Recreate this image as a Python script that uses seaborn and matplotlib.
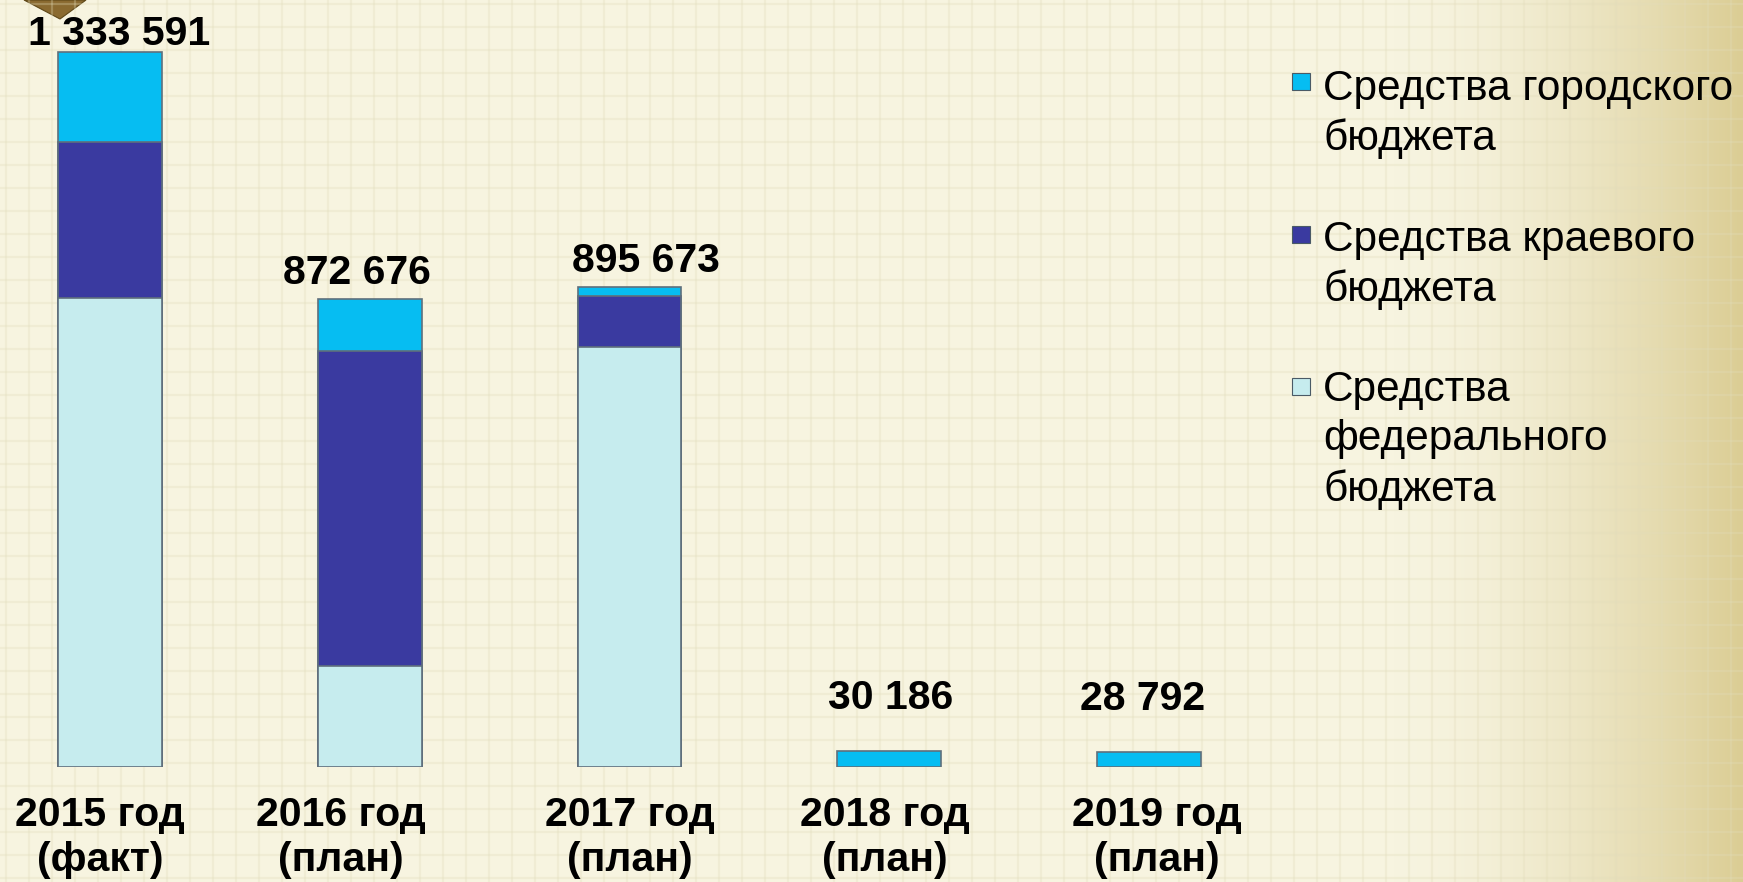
import numpy as np
import pandas as pd
import matplotlib
matplotlib.use("Agg")
import matplotlib.pyplot as plt
import matplotlib.transforms as mtransforms
import seaborn as sns
from matplotlib.patches import Rectangle, Polygon

# ---------------- data ----------------
categories = ["2015 год\n(факт)", "2016 год\n(план)", "2017 год\n(план)",
              "2018 год\n(план)", "2019 год\n(план)"]
totals = [1333591, 872676, 895673, 30186, 28792]
city_budget = [167900, 97200, 16800, 30186, 28792]
regional_budget = [291000, 588000, 95100, 0, 0]
federal_budget = [874691, 187476, 783773, 0, 0]
series_names = ["Средства городского\nбюджета",
                "Средства краевого\nбюджета",
                "Средства\nфедерального\nбюджета"]

# ---------------- style ----------------
sns.set_style("white")
plt.rcParams["font.family"] = ["Liberation Sans", "DejaVu Sans"]
plt.rcParams["text.color"] = "black"
plt.rcParams["xtick.color"] = "black"

W, H = 1743, 882
fig = plt.figure(figsize=(W / 100, H / 100), dpi=100)

c_city = "#06BDF2"
c_reg = "#3A3AA0"
c_fed = "#C6ECEE"

# background: cream with faint fabric grid, tan gradient on the right
bg = fig.add_axes([0, 0, 1, 1], zorder=-10)
xs = np.linspace(0, 1, W)
t = np.clip((xs - 0.80) / 0.20, 0, 1) ** 1.6
cream = np.array([247, 244, 224]) / 255
tan = np.array([219, 205, 148]) / 255
row = cream[None, :] * (1 - t[:, None]) + tan[None, :] * t[:, None]
img = np.tile(row[None, :, :], (H, 1, 1))
bg.imshow(img, extent=[0, W, 0, H], aspect="auto", origin="lower")
for gx in range(6, W, 23):
    bg.axvline(gx, color="#E2DCBA", lw=1.6, alpha=0.3)
for gy in range(4, H, 23):
    bg.axhline(gy, color="#E2DCBA", lw=1.6, alpha=0.3)
bg.add_patch(Polygon([(24, H), (86, H), (60, H - 19)], closed=True,
                     facecolor="#8A6A30", edgecolor="#5E4718", lw=0.8))
bg.set_xlim(0, W)
bg.set_ylim(0, H)
bg.axis("off")

# main axes
spacing = 259.75
x0_px = 110
base_px = 767
top_px = 52
ax = fig.add_axes([0, (H - base_px) / H, 1260 / W, base_px / H])
ax.patch.set_alpha(0)

df = pd.DataFrame({
    "cat": categories,
    "city": city_budget,
    "reg": regional_budget,
    "fed": federal_budget,
})
df["cum_top"] = df["city"] + df["reg"] + df["fed"]
df["cum_mid"] = df["reg"] + df["fed"]
df["cum_low"] = df["fed"]

edge = "#5F6F7C"
for col, colr in [("cum_top", c_city), ("cum_mid", c_reg), ("cum_low", c_fed)]:
    sub = df[df[col] > 0]
    sns.barplot(data=sub, x="cat", y=col, order=categories, color=colr,
                width=0.4, edgecolor=edge, linewidth=1.2, saturation=1,
                ax=ax, zorder=3)

ymax = base_px / (base_px - top_px) * totals[0]
ax.set_ylim(0, ymax)
ax.set_xlim(-x0_px / spacing, (1260 - x0_px) / spacing)

# value labels
pads_y = [7, 15, 15, 42, 42]
pads_x = [9, -13, 16, 1, -6]
for i, v in enumerate(totals):
    ax.annotate(f"{v:,}".replace(",", " "), (i, v), xytext=(pads_x[i], pads_y[i]),
                textcoords="offset pixels", ha="center", va="baseline",
                fontsize=29.5, fontweight="bold", color="black")

ax.set_xticks(range(len(categories)))
ax.set_xticklabels(categories, fontsize=29.5, fontweight="bold",
                   linespacing=1.24, color="black")
ax.tick_params(axis="x", length=0, pad=21)
shifts = [-10, -29, 0, -4, 8]
for lbl, dx in zip(ax.get_xticklabels(), shifts):
    lbl.set_transform(lbl.get_transform() +
                      mtransforms.ScaledTranslation(dx / 100, 0, fig.dpi_scale_trans))
ax.set_yticks([])
ax.set_xlabel("")
ax.set_ylabel("")
for s in ax.spines.values():
    s.set_visible(False)

# legend (manual, matching slide layout)
leg_colors = [c_city, c_reg, c_fed]
sq_tops = [73, 226, 378]
text_tops = [69, 220, 370]
for name, colr, st, tt in zip(series_names, leg_colors, sq_tops, text_tops):
    fig.patches.append(Rectangle((1292 / W, 1 - (st + 17) / H), 18 / W, 17 / H,
                                 transform=fig.transFigure, facecolor=colr,
                                 edgecolor="#4A5A66", lw=0.8))
    fig.text(1323 / W, 1 - tt / H, name, fontsize=30.5, ha="left",
             va="top", linespacing=1.3, color="black")

fig.savefig("out.png", dpi=100)
